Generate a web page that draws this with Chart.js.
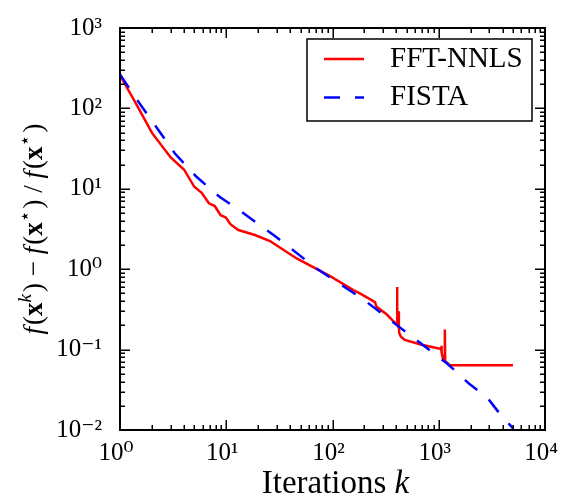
<!DOCTYPE html>
<html><head><meta charset="utf-8">
<script src="https://cdn.jsdelivr.net/npm/chart.js@4/dist/chart.umd.min.js"></script>
<style>html,body{margin:0;padding:0;background:#fff;overflow:hidden}canvas{display:block}</style>
</head><body>
<canvas id="c" width="566" height="498"></canvas>
<script>
// ---- data ----
const seriesNames = ['FFT-NNLS', 'FISTA'];
const nnlsK = [1, 1.44, 2, 3, 4, 5, 5.87, 6.87, 7.8, 8.85, 9.9, 11, 13, 18.6, 25.8, 46, 95, 157, 181, 242, 251, 260, 323, 401, 405, 406, 407, 420, 421, 422, 425, 440, 479, 689, 1000, 1055, 1062, 1066, 1099, 1138, 1141, 1150, 1271, 5000];
const nnlsF = [258, 110, 49.6, 24.5, 17.4, 10.6, 8.9, 6.6, 6.1, 4.7, 4.4, 3.6, 3.07, 2.66, 2.24, 1.36, 0.82, 0.55, 0.50, 0.40, 0.39, 0.34, 0.275, 0.205, 0.205, 0.60, 0.20, 0.19, 0.30, 0.19, 0.16, 0.145, 0.132, 0.115, 0.103, 0.103, 0.112, 0.092, 0.076, 0.074, 0.178, 0.072, 0.064, 0.064];
const fistaK = [1, 1.44, 2.21, 3.29, 5.25, 8.7, 13.5, 28.7, 70.8, 194, 401, 919, 1183, 1550, 1935, 2515, 2773, 3140, 3890, 4840, 5000];
const fistaF = [265, 129, 58, 27.5, 14.1, 7.9, 5.33, 2.58, 1.02, 0.423, 0.203, 0.0877, 0.068, 0.0494, 0.0375, 0.0288, 0.0266, 0.0216, 0.015, 0.011, 0.0105];
const xDecades = [0, 1, 2, 3, 4];
const yDecades = [-2, -1, 0, 1, 2, 3];
const xTitleParts = ['Iterations ', 'k'];

// ---- helpers ----
const SUP = {'0':'\u2070','1':'\u00B9','2':'\u00B2','3':'\u00B3','4':'\u2074','5':'\u2075','6':'\u2076','7':'\u2077','8':'\u2078','9':'\u2079','-':'\u207B'};
const supStr = s => String(s).split('').map(c => SUP[c] || c).join('');
function isMajor(v){ const l = Math.log10(v); return Math.abs(l - Math.round(l)) < 1e-9; }
function logTicks(decs){
  const out = [];
  for (let i = 0; i < decs.length; i++){
    const e = decs[i];
    const top = i === decs.length - 1 ? 1 : 9;
    for (let m = 1; m <= top; m++) out.push({value: m * Math.pow(10, e)});
  }
  return out;
}
function tickLabel(v){
  if (!isMajor(v)) return '';
  return '10' + supStr(Math.round(Math.log10(v)));
}
const SERIF = "'Liberation Serif', 'DejaVu Serif', serif";

function drawRich(ctx, segs, size){
  const fontOf = s => (s.italic ? 'italic ' : '') + (s.bold ? 'bold ' : '') + Math.round(s.sup ? size * 0.7 : size) + 'px ' + (s.fam || SERIF);
  let W = 0;
  const ws = segs.map(s => { ctx.font = fontOf(s); const w = ctx.measureText(s.t).width + (s.gap || 0); W += w; return w; });
  let x = -W / 2;
  segs.forEach((s, i) => {
    ctx.font = fontOf(s);
    ctx.fillText(s.t, x, s.sup ? -size * 0.42 : 0);
    x += ws[i];
  });
}

function zeroPad(s){ s.paddingTop = 0; s.paddingBottom = 0; s.paddingLeft = 0; s.paddingRight = 0; }

const framePlugin = {
  id: 'frame',
  afterDraw(chart){
    const {ctx, chartArea: {left, right, top, bottom}, scales: {x, y}} = chart;
    ctx.save();
    ctx.strokeStyle = '#000';
    ctx.lineWidth = 1.5;
    ctx.beginPath();
    x.ticks.forEach(t => {
      const px = Math.round(x.getPixelForValue(t.value)) + 0.25;
      const L = isMajor(t.value) ? 10 : 5;
      ctx.moveTo(px, bottom); ctx.lineTo(px, bottom - L);
      ctx.moveTo(px, top); ctx.lineTo(px, top + L);
    });
    y.ticks.forEach(t => {
      const py = Math.round(y.getPixelForValue(t.value)) + 0.25;
      const L = isMajor(t.value) ? 10 : 5;
      ctx.moveTo(left, py); ctx.lineTo(left + L, py);
      ctx.moveTo(right, py); ctx.lineTo(right - L, py);
    });
    ctx.stroke();
    ctx.lineWidth = 2;
    ctx.strokeRect(left, top, right - left, bottom - top);

    // legend
    const lx = 307, ly = 39, lw = 225, lh = 82;
    ctx.fillStyle = '#fff';
    ctx.fillRect(lx, ly, lw, lh);
    ctx.lineWidth = 1.5;
    ctx.strokeStyle = '#000';
    ctx.strokeRect(lx, ly, lw, lh);
    chart.data.datasets.forEach((ds, i) => {
      const yy = 59 + i * 38.5;
      ctx.save();
      ctx.strokeStyle = ds.borderColor;
      ctx.lineWidth = ds.borderWidth;
      ctx.setLineDash(ds.borderDash || []);
      ctx.beginPath(); ctx.moveTo(324, yy); ctx.lineTo(364, yy); ctx.stroke();
      ctx.restore();
      ctx.fillStyle = '#000';
      ctx.font = '29px ' + SERIF;
      ctx.textBaseline = 'middle';
      ctx.textAlign = 'left';
      ctx.fillText(ds.label, 390, yy);
    });

    // x title
    ctx.fillStyle = '#000';
    ctx.textBaseline = 'alphabetic';
    ctx.textAlign = 'left';
    ctx.save();
    ctx.translate((left + right) / 2 + 3, 493);
    drawRich(ctx, [{t: xTitleParts[0]}, {t: xTitleParts[1], italic: true}], 33);
    ctx.restore();

    // y title
    ctx.save();
    ctx.translate(42, (top + bottom) / 2);
    ctx.rotate(-Math.PI / 2);
    const star = {t: '\u22C6', sup: true, fam: "'DejaVu Sans', sans-serif", gap: 2};
    drawRich(ctx, [
      {t: 'f', italic: true, gap: 2}, {t: '('}, {t: 'x', bold: true}, {t: 'k', italic: true, sup: true, gap: 2}, {t: ')'},
      {t: ' \u2212 '},
      {t: 'f', italic: true, gap: 2}, {t: '('}, {t: 'x', bold: true}, star, {t: ')'},
      {t: ' / '},
      {t: 'f', italic: true, gap: 2}, {t: '('}, {t: 'x', bold: true}, star, {t: ')'}
    ], 27);
    ctx.restore();
    ctx.restore();
  }
};

const tickFont = {family: SERIF, size: 25};

new Chart(document.getElementById('c'), {
  type: 'line',
  data: {
    datasets: [
      {label: seriesNames[0], data: nnlsK.map((k, i) => ({x: k, y: nnlsF[i]})), borderColor: '#ff0000', borderWidth: 2.5, pointRadius: 0, tension: 0, fill: false, order: 1},
      {label: seriesNames[1], data: fistaK.map((k, i) => ({x: k, y: fistaF[i]})), borderColor: '#0000ff', borderWidth: 2.5, borderDash: [16, 15], pointRadius: 0, tension: 0, fill: false, order: 0}
    ]
  },
  options: {
    responsive: false,
    animation: false,
    devicePixelRatio: 1,
    layout: {padding: {left: 0, top: 28, right: 21, bottom: 0}},
    plugins: {legend: {display: false}, tooltip: {enabled: false}},
    scales: {
      x: {
        type: 'logarithmic', position: 'bottom',
        min: Math.pow(10, xDecades[0]), max: Math.pow(10, xDecades[xDecades.length - 1]),
        afterBuildTicks: s => { s.ticks = logTicks(xDecades); },
        afterFit: s => { s.height = 68; zeroPad(s); },
        grid: {display: false, drawTicks: false},
        border: {display: false},
        ticks: {autoSkip: false, maxRotation: 0, minRotation: 0, padding: 8, labelOffset: -4, color: '#000', font: tickFont, callback: v => tickLabel(v)}
      },
      y: {
        type: 'logarithmic', position: 'left',
        min: Math.pow(10, yDecades[0]), max: Math.pow(10, yDecades[yDecades.length - 1]),
        afterBuildTicks: s => { s.ticks = logTicks(yDecades); },
        afterFit: s => { s.width = 120; zeroPad(s); },
        grid: {display: false, drawTicks: false},
        border: {display: false},
        ticks: {autoSkip: false, padding: 18, color: '#000', font: tickFont, callback: v => tickLabel(v)}
      }
    }
  },
  plugins: [framePlugin]
});
</script>
</body></html>
